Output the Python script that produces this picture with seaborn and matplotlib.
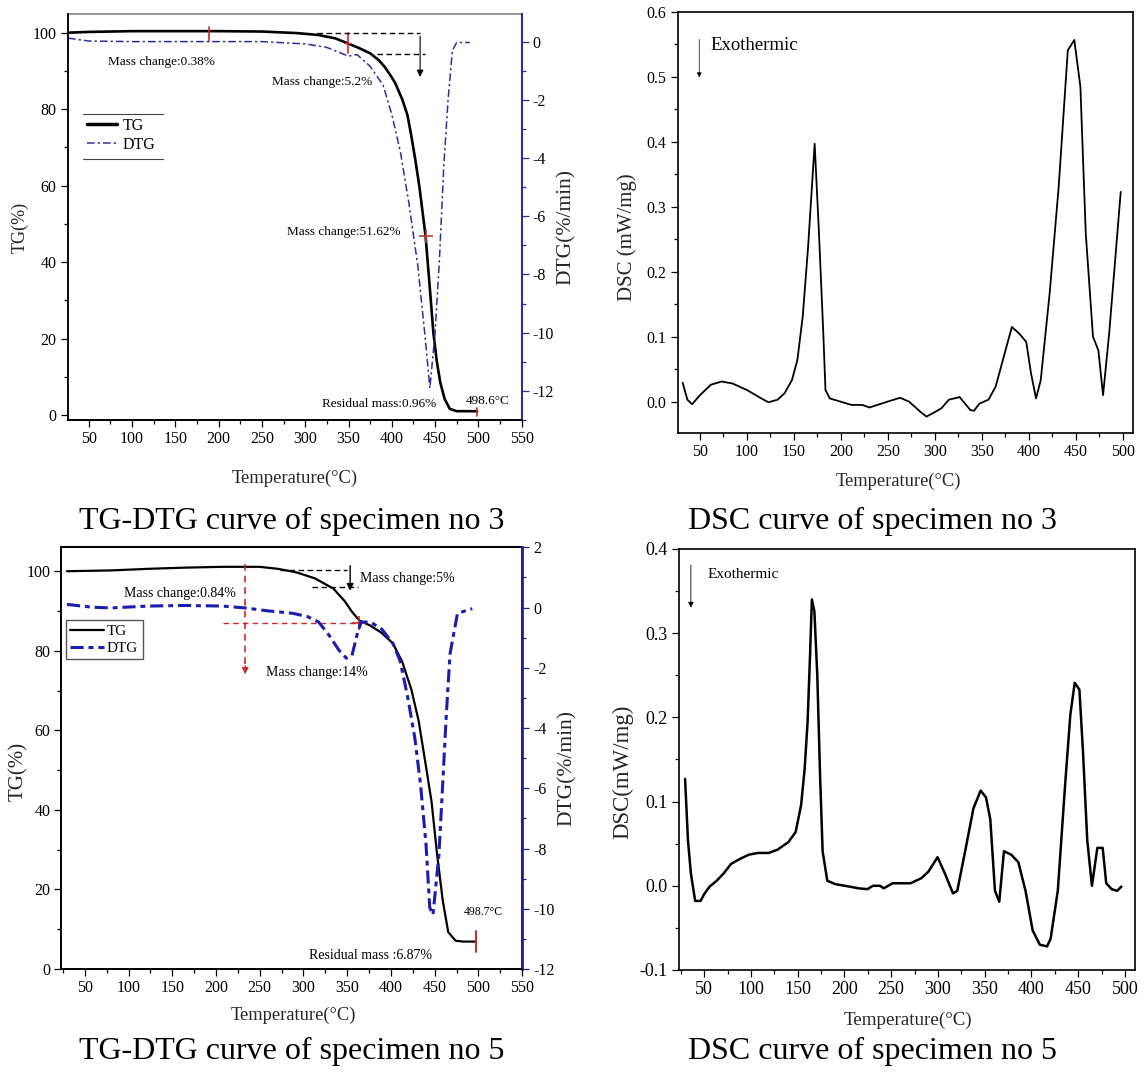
import matplotlib
matplotlib.use('Agg')
import matplotlib.pyplot as plt
from matplotlib.ticker import MultipleLocator, FormatStrFormatter
from matplotlib.lines import Line2D
import seaborn as sns

sns.set_theme(style='ticks')
plt.rcParams['font.family'] = ['Liberation Serif', 'DejaVu Serif']
plt.rcParams['axes.unicode_minus'] = False
plt.rcParams['axes.edgecolor'] = 'black'
plt.rcParams['xtick.color'] = 'black'
plt.rcParams['ytick.color'] = 'black'
plt.rcParams['text.color'] = 'black'

# specimen no 3 : TG / DTG
tg3_t = [26, 50, 100, 150, 200, 250, 290, 315, 335, 349, 362, 375, 385, 392, 398, 404,
         412, 418, 422, 427, 432, 439, 444, 448, 452, 456, 461, 467, 475, 490, 498.6]
tg3 = [100.0, 100.2, 100.4, 100.4, 100.4, 100.3, 99.9, 99.4, 98.5, 97.2, 96.0, 94.6,
       92.8, 91.0, 89.0, 86.8, 82.6, 78.5, 73.7, 67.0, 59.5, 46.8, 33.0, 21.6, 14.0,
       8.5, 4.2, 1.6, 1.0, 1.0, 1.0]
dtg3_t = [26, 50, 100, 150, 200, 250, 300, 325, 340, 350, 360, 375, 390, 400, 410,
          420, 430, 438, 444, 450, 455, 460, 465, 470, 475, 490]
dtg3 = [0.12, 0.02, 0.0, 0.0, 0.0, 0.0, -0.08, -0.2, -0.38, -0.5, -0.45, -0.85, -1.5,
        -2.5, -3.8, -5.6, -7.7, -10.0, -11.9, -10.0, -7.5, -4.3, -2.0, -0.3, -0.03, -0.03]

# specimen no 3 : DSC
dsc3_t = [31.6, 36.6, 41.6, 50, 61.5, 73, 84.5, 99.9, 115.2, 122.9, 132.5, 140, 147.8,
          153.6, 159.3, 165, 172, 176.6, 181.2, 183.5, 188.1, 199.6, 211, 222.6, 230.3,
          249.5, 262.9, 272.5, 284, 290.9, 301.2, 307, 314.7, 326.2, 337.7, 341.5, 347.3,
          356.9, 364.5, 372.2, 381.8, 389.5, 397.1, 402.1, 407.5, 412.5, 422, 431.6,
          441.3, 448.2, 454.7, 460.4, 468.1, 473.8, 478.8, 485.3, 497.6]
dsc3 = [0.029, 0.003, -0.004, 0.010, 0.026, 0.031, 0.028, 0.018, 0.005, -0.001, 0.003,
        0.013, 0.033, 0.064, 0.131, 0.238, 0.397, 0.259, 0.105, 0.018, 0.005, 0.0,
        -0.005, -0.005, -0.009, 0.0, 0.006, 0.0, -0.015, -0.023, -0.015, -0.010, 0.003,
        0.007, -0.013, -0.014, -0.003, 0.003, 0.023, 0.064, 0.115, 0.105, 0.092, 0.044,
        0.005, 0.033, 0.167, 0.331, 0.541, 0.557, 0.485, 0.259, 0.100, 0.079, 0.010,
        0.105, 0.323]

# specimen no 5 : TG / DTG
tg5_t = [29.7, 80.5, 122.8, 165, 207.4, 249.7, 270.8, 292, 313.1, 334.3, 347, 355.4,
         363.9, 376.6, 389.3, 402, 412.5, 423.1, 431.6, 440, 446.4, 452.7, 459.1, 465.4,
         473.9, 482.3, 497.1]
tg5 = [100.0, 100.2, 100.6, 100.9, 101.1, 101.1, 100.6, 99.7, 98.2, 95.6, 92.5, 89.8,
       87.6, 86.3, 84.5, 81.9, 77.4, 70.4, 62.4, 50.9, 42.0, 28.8, 17.3, 9.3, 7.1, 6.9, 6.9]
dtg5_t = [29.7, 59.3, 80.5, 122.8, 165, 207.4, 232.7, 258.1, 287.7, 304.6, 317.3, 330,
          340.6, 349, 355.4, 361.8, 366, 376.6, 389.3, 402, 410.4, 418.9, 427.3, 433.7,
          440, 444.3, 448, 454.8, 459.1, 463.3, 467.5, 476, 492.9]
dtg5 = [0.105, 0.01, -0.01, 0.05, 0.07, 0.05, -0.01, -0.105, -0.19, -0.30, -0.48, -0.95,
        -1.42, -1.68, -1.59, -0.83, -0.48, -0.48, -0.71, -1.18, -1.77, -2.94, -4.34,
        -5.86, -7.85, -9.96, -10.2, -8.2, -5.86, -3.52, -1.53, -0.19, -0.035]

# specimen no 5 : DSC
dsc5_t = [29.6, 32.7, 35.8, 40.4, 46.2, 50, 55.8, 63.4, 71.1, 78.8, 88.4, 98, 107.6,
          119.1, 128.7, 140.2, 147.9, 153.7, 157.5, 160.6, 163.3, 165.2, 167.9, 171, 174,
          176.7, 181.7, 190.1, 205.5, 215.1, 224.7, 230.5, 238.1, 242, 251.6, 263.1,
          270.8, 282.3, 290, 299.6, 307.3, 316.1, 320.7, 328.4, 338, 345.7, 351.4, 356,
          361, 365.6, 370.6, 378.3, 386, 393.7, 401.3, 409, 416.7, 420.5, 428.2, 435.9,
          441.6, 446.3, 451.3, 455.1, 459.7, 464.7, 470.5, 476.2, 480, 485.8, 491.6, 496.2]
dsc5 = [0.127, 0.054, 0.015, -0.018, -0.018, -0.010, -0.001, 0.006, 0.015, 0.026, 0.032,
        0.037, 0.039, 0.039, 0.043, 0.052, 0.064, 0.096, 0.139, 0.194, 0.275, 0.340,
        0.326, 0.250, 0.130, 0.041, 0.006, 0.002, -0.001, -0.003, -0.004, 0.0, 0.0,
        -0.003, 0.003, 0.003, 0.003, 0.009, 0.017, 0.034, 0.015, -0.009, -0.006, 0.037,
        0.092, 0.113, 0.105, 0.079, -0.006, -0.019, 0.041, 0.037, 0.028, -0.006, -0.053,
        -0.070, -0.072, -0.063, -0.006, 0.118, 0.203, 0.241, 0.233, 0.160, 0.054, 0.0,
        0.045, 0.045, 0.003, -0.004, -0.006, -0.001]

RED = '#d02828'
BLUE3 = '#2e2e9e'
BLUE5 = '#1c1cb0'
XLAB = 'Temperature(°C)'


def ticks(ax, xmaj, xmin, ymaj, ymin, fs):
    ax.xaxis.set_major_locator(MultipleLocator(xmaj))
    ax.xaxis.set_minor_locator(MultipleLocator(xmin))
    ax.yaxis.set_major_locator(MultipleLocator(ymaj))
    ax.yaxis.set_minor_locator(MultipleLocator(ymin))
    ax.tick_params(which='both', direction='out', labelsize=fs, width=0.9, pad=3)
    ax.tick_params(which='major', length=5)
    ax.tick_params(which='minor', length=3)


def labels(ax, xl, xpos, yl, ypos, xfs, yfs):
    ax.set_xlabel(xl, fontsize=xfs)
    ax.set_ylabel(yl, fontsize=yfs)
    ax.xaxis.set_label_coords(*xpos)
    ax.yaxis.set_label_coords(*ypos)
    ax.xaxis.label.set_va('center')
    ax.yaxis.label.set_va('center')


fig = plt.figure(figsize=(11.45, 10.73), dpi=100)

# ---------- TG-DTG specimen 3 ----------
ax1 = fig.add_axes([0.0591, 0.6086, 0.3965, 0.3784])
sns.lineplot(x=tg3_t, y=tg3, ax=ax1, color='black', lw=1.9, sort=False, legend=False)
ax1.set_xlim(25.6, 550)
ax1.set_ylim(-1.3, 104.9)
ticks(ax1, 50, 25, 20, 10, 11.5)
ax1.set_xticks(range(50, 551, 50))
labels(ax1, XLAB, (0.5, -0.143), 'TG(%)', (-0.105, 0.473), 13.4, 13)
ax1.spines['top'].set_color('#8a8a8a')
ax1.spines['left'].set_color('#555555')

ax1b = ax1.twinx()
sns.lineplot(x=dtg3_t, y=dtg3, ax=ax1b, color=BLUE3, lw=1.1, sort=False, legend=False,
             linestyle=(0, (5, 2, 1.5, 2)))
ax1b.set_ylim(-13.0, 0.95)
ax1b.yaxis.set_major_locator(MultipleLocator(2))
ax1b.yaxis.set_minor_locator(MultipleLocator(1))
ax1b.tick_params(which='both', direction='out', labelsize=11.5, width=0.9, color=BLUE3, pad=3)
ax1b.tick_params(which='major', length=5)
ax1b.tick_params(which='minor', length=3)
ax1b.spines['right'].set_color(BLUE3)
ax1b.spines['right'].set_linewidth(1.5)
ax1b.spines['top'].set_visible(False)
ax1b.set_ylabel('DTG(%/min)', fontsize=15.5)
ax1b.yaxis.set_label_coords(1.099, 0.475)
ax1b.yaxis.label.set_va('center')

# annotations
ax1.plot([188.5, 188.5], [97.9, 101.4], color=RED, lw=1.2)
ax1.plot([349.3, 349.3], [94.8, 99.8], color=RED, lw=1.2)
ax1.plot([345, 353], [97.3, 97.3], color=RED, lw=0.8)
ax1.plot([313.6, 432.7], [99.8, 99.8], color='black', lw=1.0, dashes=(4, 2.5))
ax1.plot([382.7, 438.4], [94.4, 94.4], color='black', lw=1.0, dashes=(4, 2.5))
ax1.annotate('', xy=(432.7, 87.7), xytext=(432.7, 99.8),
             arrowprops=dict(arrowstyle='-|>', color='black', lw=0.8, mutation_scale=10))
ax1.plot([439.3], [46.8], marker='+', ms=10, mew=1.2, color='#b04030')
ax1.plot([498, 498], [-0.2, 1.8], color=RED, lw=1.2)
ax1.text(134, 92.4, 'Mass change:0.38%', ha='center', va='center', fontsize=9.5)
ax1.text(319, 87.2, 'Mass change:5.2%', ha='center', va='center', fontsize=9.5)
ax1.text(345, 47.8, 'Mass change:51.62%', ha='center', va='center', fontsize=9.5)
ax1.text(385, 2.9, 'Residual mass:0.96%', ha='center', va='center', fontsize=9.5)
ax1.text(511, 3.6, '498.6°C', ha='center', va='center', fontsize=9.5)

h1 = [Line2D([], [], color='black', lw=2.5),
      Line2D([], [], color=BLUE3, lw=1.1, linestyle=(0, (5, 2, 1.5, 2)))]
ax1.legend(h1, ['TG', 'DTG'], loc='upper left', bbox_to_anchor=(0.034, 0.754),
           frameon=False, fontsize=11.5, handlelength=1.9, handletextpad=0.3,
           borderpad=0.25, borderaxespad=0, labelspacing=0.2)
ax1.plot([0.034, 0.209], [0.754, 0.754], transform=ax1.transAxes, color='#444444', lw=0.8)
ax1.plot([0.034, 0.209], [0.642, 0.642], transform=ax1.transAxes, color='#444444', lw=0.8)

# ---------- DSC specimen 3 ----------
ax2 = fig.add_axes([0.5918, 0.5962, 0.398, 0.3926])
sns.lineplot(x=dsc3_t, y=dsc3, ax=ax2, color='black', lw=1.3, sort=False, legend=False)
ax2.set_xlim(26.2, 511)
ax2.set_ylim(-0.0487, 0.6)
ticks(ax2, 50, 25, 0.1, 0.05, 11.5)
ax2.set_xticks(range(50, 501, 50))
ax2.yaxis.set_major_formatter(FormatStrFormatter('%.1f'))
labels(ax2, XLAB, (0.484, -0.115), 'DSC (mW/mg)', (-0.111, 0.466), 13.3, 15)
ax2.annotate('', xy=(49.2, 0.495), xytext=(49.2, 0.562),
             arrowprops=dict(arrowstyle='-|>', color='black', lw=0.5, mutation_scale=7))
ax2.text(61.5, 0.549, 'Exothermic', ha='left', va='center', fontsize=13.5)

# ---------- TG-DTG specimen 5 ----------
ax3 = fig.add_axes([0.0537, 0.0969, 0.4024, 0.393])
sns.lineplot(x=tg5_t, y=tg5, ax=ax3, color='black', lw=1.6, sort=False, legend=False)
ax3.set_xlim(23.4, 550)
ax3.set_ylim(0, 106)
ticks(ax3, 50, 25, 20, 10, 11.5)
ax3.set_xticks(range(50, 551, 50))
labels(ax3, XLAB, (0.503, -0.111), 'TG(%)', (-0.093, 0.468), 13.3, 15)
ax3.spines['top'].set_linewidth(1.5)

ax3b = ax3.twinx()
sns.lineplot(x=dtg5_t, y=dtg5, ax=ax3b, color=BLUE5, lw=2.2, sort=False, legend=False,
             linestyle=(0, (4.3, 1.6, 1.6, 1.6)))
ax3b.set_ylim(-12, 2)
ax3b.yaxis.set_major_locator(MultipleLocator(2))
ax3b.yaxis.set_minor_locator(MultipleLocator(1))
ax3b.tick_params(which='both', direction='out', labelsize=11.5, width=0.9, color=BLUE5, pad=3)
ax3b.tick_params(which='major', length=5)
ax3b.tick_params(which='minor', length=3)
ax3b.spines['right'].set_color('#23238a')
ax3b.spines['right'].set_linewidth(2.0)
ax3b.spines['top'].set_visible(False)
ax3b.set_ylabel('DTG(%/min)', fontsize=15.5)
ax3b.yaxis.set_label_coords(1.097, 0.477)
ax3b.yaxis.label.set_va('center')

ax3.plot([233.4, 233.4], [101.9, 76.0], color=RED, lw=1.2, dashes=(4, 3))
ax3.annotate('', xy=(233.4, 73.4), xytext=(233.4, 77.0),
             arrowprops=dict(arrowstyle='-|>', color=RED, lw=0.8, mutation_scale=10))
ax3.plot([208, 363], [87.0, 87.0], color=RED, lw=1.0, dashes=(4, 3))
ax3.plot([363], [87.0], marker='+', ms=10, mew=1.2, color=RED)
ax3.plot([273, 349.8], [100.4, 100.4], color='black', lw=1.0, dashes=(4, 2.5))
ax3.plot([310, 362], [96.0, 96.0], color='black', lw=1.0, dashes=(4, 2.5))
ax3.annotate('', xy=(353.3, 94.4), xytext=(353.3, 102.1),
             arrowprops=dict(arrowstyle='-|>', color='black', lw=1.0, mutation_scale=10))
ax3.plot([497.2, 497.2], [4.3, 9.5], color=RED, lw=1.4)
ax3.text(158.7, 94.4, 'Mass change:0.84%', ha='center', va='center', fontsize=10)
ax3.text(315, 74.6, 'Mass change:14%', ha='center', va='center', fontsize=10)
ax3.text(418.5, 98.2, 'Mass change:5%', ha='center', va='center', fontsize=10)
ax3.text(506, 14.4, '498.7°C', ha='center', va='center', fontsize=8.5)
ax3.text(376.8, 3.5, 'Residual mass :6.87%', ha='center', va='center', fontsize=10)

h3 = [Line2D([], [], color='black', lw=1.6),
      Line2D([], [], color=BLUE5, lw=2.2, linestyle=(0, (4.3, 1.6, 1.6, 1.6)))]
leg3 = ax3.legend(h3, ['TG', 'DTG'], loc='upper left', bbox_to_anchor=(0.009, 0.828),
                  fontsize=11, handlelength=2.2, handletextpad=0.2, borderpad=0.3,
                  borderaxespad=0, labelspacing=0.2, fancybox=False, framealpha=1)
leg3.get_frame().set_edgecolor('#555555')
leg3.get_frame().set_linewidth(1.0)

# ---------- DSC specimen 5 ----------
ax4 = fig.add_axes([0.593, 0.096, 0.3983, 0.3924])
sns.lineplot(x=dsc5_t, y=dsc5, ax=ax4, color='black', lw=1.8, sort=False, legend=False)
ax4.set_xlim(23.1, 510.8)
ax4.set_ylim(-0.1, 0.4)
ticks(ax4, 50, 25, 0.1, 0.05, 13)
ax4.set_xticks(range(50, 501, 50))
ax4.yaxis.set_major_formatter(FormatStrFormatter('%.1f'))
labels(ax4, XLAB, (0.502, -0.119), 'DSC(mW/mg)', (-0.123, 0.47), 13.7, 16.5)
ax4.annotate('', xy=(35.8, 0.327), xytext=(35.8, 0.384),
             arrowprops=dict(arrowstyle='-|>', color='black', lw=0.6, mutation_scale=8))
ax4.text(53.8, 0.370, 'Exothermic', ha='left', va='center', fontsize=11)

for ax in (ax2, ax4):
    for s in ax.spines.values():
        s.set_linewidth(1.2)
        s.set_color('black')

# captions
cap = dict(ha='center', va='center', fontsize=23)
fig.text(0.2550, 0.5144, 'TG-DTG curve of specimen no 3', **cap)
fig.text(0.7616, 0.5144, 'DSC curve of specimen no 3', **cap)
fig.text(0.2550, 0.0205, 'TG-DTG curve of specimen no 5', **cap)
fig.text(0.7616, 0.0205, 'DSC curve of specimen no 5', **cap)

fig.savefig('out.png', dpi=100)
